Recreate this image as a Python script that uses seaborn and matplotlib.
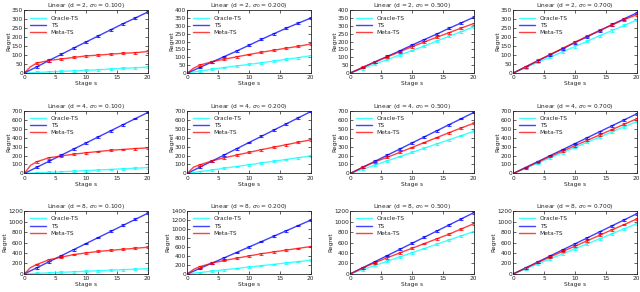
import numpy as np
import pandas as pd
import matplotlib
matplotlib.use("Agg")
import matplotlib.pyplot as plt
import seaborn as sns

STAGES = [0, 1, 2, 4, 6, 8, 10, 12, 14, 16, 18, 20]
DIMS = [2, 4, 8]
SIGMAS = [0.1, 0.2, 0.5, 0.7]
METHODS = ["Oracle-TS", "TS", "Meta-TS"]

# one list per sigma (0.1, 0.2, 0.5, 0.7)
ORACLE_D2 = [[0, 1, 3, 6, 9, 12, 15, 18, 22, 26, 29, 33],
             [0, 6, 12, 24, 35, 45, 55, 65, 76, 87, 98, 110],
             [0, 14, 28, 57, 86, 115, 143, 172, 204, 234, 264, 295],
             [0, 15, 30, 60, 89, 118, 148, 178, 208, 237, 266, 295]]
TS_D2 = [[0, 17, 34, 70, 104, 139, 173, 207, 241, 275, 307, 340],
         [0, 17, 35, 70, 105, 140, 177, 214, 250, 285, 318, 350],
         [0, 17, 35, 71, 106, 141, 178, 213, 248, 285, 320, 355],
         [0, 17, 34, 68, 102, 135, 170, 203, 236, 270, 303, 335]]
META_D2 = [[0, 35, 55, 70, 78, 87, 95, 100, 105, 110, 113, 120],
           [0, 30, 50, 72, 88, 103, 118, 132, 145, 158, 170, 185],
           [0, 18, 36, 70, 103, 135, 168, 198, 228, 257, 287, 315],
           [0, 17, 35, 70, 104, 138, 172, 205, 238, 268, 298, 325]]

ORACLE_D4 = [[0, 3, 6, 12, 18, 25, 31, 38, 45, 52, 58, 65],
             [0, 10, 20, 39, 58, 78, 97, 117, 136, 156, 176, 195],
             [0, 24, 47, 94, 141, 188, 235, 282, 329, 376, 423, 470],
             [0, 29, 58, 116, 174, 232, 290, 348, 406, 464, 522, 580]]
TS_D4 = [[0, 34, 68, 136, 204, 272, 340, 408, 476, 544, 612, 680],
         [0, 35, 69, 138, 207, 276, 345, 414, 483, 552, 621, 690],
         [0, 34, 68, 136, 204, 272, 340, 408, 476, 544, 612, 680],
         [0, 33, 67, 133, 200, 266, 333, 399, 466, 532, 599, 665]]
META_D4 = [[0, 90, 130, 175, 195, 215, 230, 245, 258, 268, 277, 285],
           [0, 70, 95, 140, 175, 205, 235, 265, 293, 320, 348, 375],
           [0, 35, 68, 130, 180, 235, 290, 345, 400, 455, 508, 560],
           [0, 32, 65, 128, 190, 250, 310, 370, 430, 490, 550, 610]]

ORACLE_D8 = [[0, 5, 10, 20, 30, 40, 50, 60, 70, 80, 90, 100],
             [0, 15, 30, 61, 92, 122, 152, 183, 213, 244, 274, 305],
             [0, 40, 81, 162, 243, 324, 405, 486, 567, 648, 729, 810],
             [0, 48, 96, 192, 288, 384, 480, 576, 672, 768, 864, 960]]
TS_D8 = [[0, 58, 116, 232, 348, 464, 580, 696, 812, 928, 1044, 1160],
         [0, 60, 120, 240, 360, 480, 600, 720, 840, 960, 1080, 1200],
         [0, 58, 117, 234, 351, 468, 585, 702, 819, 936, 1053, 1170],
         [0, 57, 115, 230, 345, 460, 575, 690, 805, 920, 1035, 1150]]
META_D8 = [[0, 120, 180, 270, 320, 370, 400, 430, 450, 470, 490, 510],
           [0, 100, 160, 240, 300, 350, 400, 450, 490, 530, 570, 610],
           [0, 60, 115, 215, 310, 400, 490, 580, 670, 760, 860, 960],
           [0, 55, 110, 220, 325, 430, 530, 635, 740, 845, 945, 1050]]

YMAX = {2: [350, 400, 400, 350], 4: [700, 700, 700, 700], 8: [1200, 1400, 1200, 1200]}
YSTEP = {2: 50, 4: 100, 8: 200}
ERR = {2: 6, 4: 10, 8: 18}  # approx. size of the error bars

SERIES = {
    2: (ORACLE_D2, TS_D2, META_D2),
    4: (ORACLE_D4, TS_D4, META_D4),
    8: (ORACLE_D8, TS_D8, META_D8),
}
PALETTE = {"Oracle-TS": "cyan", "TS": "blue", "Meta-TS": "red"}
FS = 4.2

sns.set_style("ticks")
plt.rcParams.update({
    "font.family": ["DejaVu Sans"],
    "font.size": FS,
    "xtick.direction": "in",
    "ytick.direction": "in",
    "xtick.top": True,
    "ytick.right": True,
    "xtick.major.size": 2,
    "ytick.major.size": 2,
    "xtick.major.pad": 1.5,
    "ytick.major.pad": 1.0,
    "axes.linewidth": 0.6,
})

fig, axes = plt.subplots(3, 4, figsize=(6.4, 2.92), dpi=100)

for i, d in enumerate(DIMS):
    for j, sig in enumerate(SIGMAS):
        ax = axes[i, j]
        rows = []
        for name, data in zip(METHODS, SERIES[d]):
            for s, v in zip(STAGES, data[j]):
                rows.append({"stage": s, "regret": v, "method": name})
        df = pd.DataFrame(rows)
        sns.lineplot(data=df, x="stage", y="regret", hue="method",
                     palette=PALETTE, hue_order=METHODS, ax=ax,
                     linewidth=1.0, alpha=0.75)
        for name in METHODS:
            sub = df[(df.method == name) & (df.stage > 0) & (df.stage % 2 == 0)]
            ax.errorbar(sub.stage, sub.regret, yerr=ERR[d], fmt="none",
                        ecolor=PALETTE[name], elinewidth=0.8, capsize=1.2,
                        capthick=0.8, alpha=0.75)
        ax.set_xlim(0, 20)
        ax.set_ylim(0, YMAX[d][j])
        ax.set_xticks([0, 5, 10, 15, 20])
        ax.set_yticks(np.arange(0, YMAX[d][j] + 1, YSTEP[d]))
        ax.tick_params(labelsize=FS, width=0.5)
        ax.set_xlabel("Stage s", fontsize=FS, labelpad=1)
        ax.set_ylabel("Regret", fontsize=FS, labelpad=0.5)
        ax.set_title(f"Linear (d = {d}, $\\sigma_0$ = {sig:.3f})", fontsize=FS, pad=2)
        ax.legend(loc="upper left", frameon=False, fontsize=FS,
                  handlelength=2.8, borderaxespad=0.5, labelspacing=0.35,
                  handletextpad=0.8)

fig.subplots_adjust(left=0.038, right=0.995, top=0.965, bottom=0.062,
                    wspace=0.32, hspace=0.6)
fig.savefig("out.png", dpi=100)
